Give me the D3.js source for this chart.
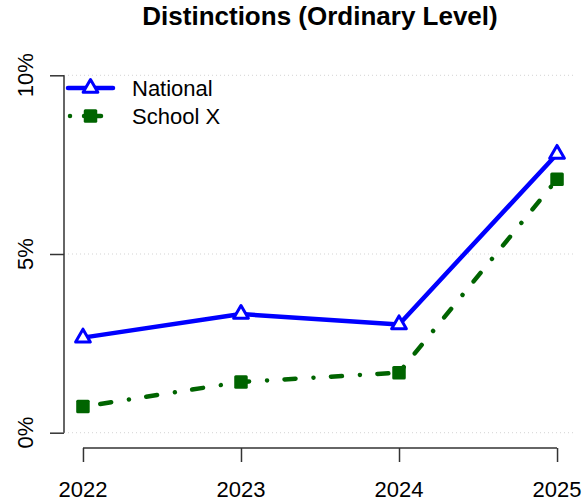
<!DOCTYPE html>
<html>
<head>
<meta charset="utf-8">
<script src="https://cdn.jsdelivr.net/npm/d3@7"></script>
<style>
  html, body { margin: 0; padding: 0; background: #fff; }
  svg { display: block; font-family: "Liberation Sans", Arial, Helvetica, sans-serif; }
</style>
</head>
<body>
<svg id="chart" width="585" height="504"></svg>
<script>
const years = [2022, 2023, 2024, 2025];
const national = [2.66, 3.32, 3.03, 7.8];
const schoolX = [0.73, 1.42, 1.68, 7.09];
const yTicks = [0, 5, 10];
const seriesNames = ["National", "School X"];

const W = 585, H = 504;
const plot = { left: 64, right: 576, top: 61, bottom: 447 };

const svg = d3.select("#chart");

const x = d3.scaleLinear()
  .domain([years[0] - 0.12, years[years.length - 1] + 0.12])
  .range([plot.left, plot.right]);
const y = d3.scaleLinear()
  .domain([-0.4, 10.4])
  .range([plot.bottom, plot.top]);

const axisColor = "#333";

// grid lines
svg.append("g").selectAll("line")
  .data(yTicks).join("line")
  .attr("x1", plot.left).attr("x2", plot.right)
  .attr("y1", d => y(d)).attr("y2", d => y(d))
  .attr("stroke", "#d3d3d3").attr("stroke-width", 1)
  .attr("stroke-dasharray", "1,3");

// title
svg.append("text")
  .attr("x", (plot.left + plot.right) / 2).attr("y", 25)
  .attr("text-anchor", "middle")
  .attr("font-size", 26).attr("font-weight", "bold")
  .attr("fill", "#000")
  .text("Distinctions (Ordinary Level)");

// y axis
const yAxis = svg.append("g")
  .attr("transform", `translate(${plot.left},0)`)
  .call(d3.axisLeft(y).tickValues(yTicks).tickSize(14).tickFormat(""));
yAxis.select(".domain").remove();
yAxis.selectAll(".tick line").attr("stroke", axisColor).attr("stroke-width", 1.5);
yAxis.append("line")
  .attr("x1", 0).attr("x2", 0)
  .attr("y1", y(yTicks[0])).attr("y2", y(yTicks[yTicks.length - 1]))
  .attr("stroke", axisColor).attr("stroke-width", 1.5);
svg.append("g").selectAll("text")
  .data(yTicks).join("text")
  .attr("transform", d => `translate(33,${y(d)}) rotate(-90)`)
  .attr("text-anchor", "middle")
  .attr("font-size", 22).attr("fill", "#000")
  .text(d => d + "%");

// x axis
const xAxisY = plot.bottom + 1;
const xAxis = svg.append("g")
  .attr("transform", `translate(0,${xAxisY})`)
  .call(d3.axisBottom(x).tickValues(years).tickSize(14).tickFormat(""));
xAxis.select(".domain").remove();
xAxis.selectAll(".tick line").attr("stroke", axisColor).attr("stroke-width", 1.5);
xAxis.append("line")
  .attr("x1", x(years[0])).attr("x2", x(years[years.length - 1]))
  .attr("y1", 0).attr("y2", 0)
  .attr("stroke", axisColor).attr("stroke-width", 1.5);
svg.append("g").selectAll("text")
  .data(years).join("text")
  .attr("x", d => x(d)).attr("y", 497)
  .attr("text-anchor", "middle")
  .attr("font-size", 22).attr("fill", "#000")
  .text(d => d);

// series
const blue = "#0000ff", green = "#006400";
const lineW = 4.5;
const dotdash = "0.01,17.5,11,18";
const line = d3.line().x((d, i) => x(years[i])).y(d => y(d));

const triR = 8.5;
function triPath(cx, cy) {
  const hw = triR * Math.sqrt(3) / 2;
  return `M${cx},${cy - triR}L${cx + hw},${cy + triR / 2}L${cx - hw},${cy + triR / 2}Z`;
}
const sq = 13.5;

svg.append("path").datum(schoolX)
  .attr("d", line).attr("fill", "none")
  .attr("stroke", green).attr("stroke-width", lineW)
  .attr("stroke-linecap", "round").attr("stroke-linejoin", "round")
  .attr("stroke-dasharray", dotdash);
svg.append("g").selectAll("rect")
  .data(schoolX).join("rect")
  .attr("x", (d, i) => x(years[i]) - sq / 2)
  .attr("y", d => y(d) - sq / 2)
  .attr("width", sq).attr("height", sq).attr("rx", 1.5)
  .attr("fill", green);

svg.append("path").datum(national)
  .attr("d", line).attr("fill", "none")
  .attr("stroke", blue).attr("stroke-width", lineW)
  .attr("stroke-linecap", "round").attr("stroke-linejoin", "round");
svg.append("g").selectAll("path")
  .data(national).join("path")
  .attr("d", (d, i) => triPath(x(years[i]), y(d)))
  .attr("fill", "#fff").attr("stroke", blue).attr("stroke-width", 3)
  .attr("stroke-linejoin", "round");

// legend
const lg = svg.append("g");
const lx1 = 68, lx2 = 113, lmx = 90.5;
const ly = [88, 116];
lg.append("line").attr("x1", lx1).attr("x2", lx2).attr("y1", ly[0]).attr("y2", ly[0])
  .attr("stroke", blue).attr("stroke-width", lineW).attr("stroke-linecap", "round");
lg.append("path").attr("d", triPath(lmx, ly[0]))
  .attr("fill", "#fff").attr("stroke", blue).attr("stroke-width", 3).attr("stroke-linejoin", "round");
lg.append("line").attr("x1", 70).attr("x2", lx2).attr("y1", ly[1]).attr("y2", ly[1])
  .attr("stroke", green).attr("stroke-width", lineW).attr("stroke-linecap", "round")
  .attr("stroke-dasharray", "0.01,14,17,40");
lg.append("rect").attr("x", lmx - sq / 2).attr("y", ly[1] - sq / 2)
  .attr("width", sq).attr("height", sq).attr("rx", 1.5).attr("fill", green);
lg.selectAll("text").data(seriesNames).join("text")
  .attr("x", 132).attr("y", (d, i) => ly[i] + 8)
  .attr("font-size", 22).attr("fill", "#000")
  .text(d => d);
</script>
</body>
</html>
